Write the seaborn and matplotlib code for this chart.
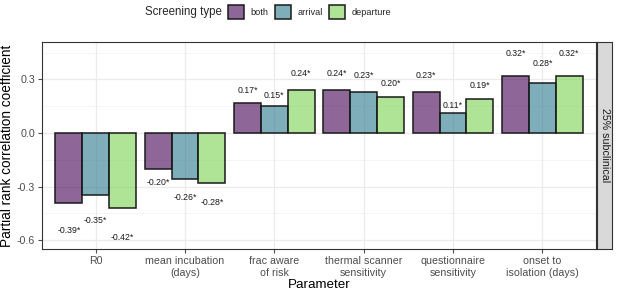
import matplotlib
matplotlib.use("Agg")
import matplotlib.pyplot as plt
import matplotlib.colors as mcolors
import seaborn as sns
import pandas as pd
import numpy as np
from matplotlib.patches import Patch

sns.set_theme(style="white")
plt.rcParams['font.family'] = ['Liberation Sans', 'DejaVu Sans']

parameters = ["R0", "mean incubation\n(days)", "frac aware\nof risk",
              "thermal scanner\nsensitivity", "questionnaire\nsensitivity",
              "onset to\nisolation (days)"]
screening_types = ["both", "arrival", "departure"]
both = [-0.39, -0.20, 0.17, 0.24, 0.23, 0.32]
arrival = [-0.35, -0.26, 0.15, 0.23, 0.11, 0.28]
departure = [-0.42, -0.28, 0.24, 0.20, 0.19, 0.32]
base_colors = ["#440154", "#2A788E", "#7AD151"]
facet_label = "25% subclinical"

rows = []
for i, p in enumerate(parameters):
    for s, vals in zip(screening_types, [both, arrival, departure]):
        rows.append({"Parameter": p, "Screening type": s, "value": vals[i]})
df = pd.DataFrame(rows)

fill_colors = [mcolors.to_rgba(c, 0.6) for c in base_colors]
edge = "#1a1a1a"

fig = plt.figure(figsize=(6.17, 2.91), dpi=100)
ax = fig.add_axes([42/617, 1-249/291, (596-42)/617, (249-42)/291])

# grid
for y in [-0.6, -0.3, 0.0, 0.3]:
    ax.axhline(y, color="#EBEBEB", lw=0.9, zorder=0)
for y in [-0.45, -0.15, 0.15, 0.45]:
    ax.axhline(y, color="#F2F2F2", lw=0.5, zorder=0)
for x in range(len(parameters)):
    ax.axvline(x, color="#EBEBEB", lw=0.9, zorder=0)

sns.barplot(data=df, x="Parameter", y="value", hue="Screening type",
            hue_order=screening_types, order=parameters,
            palette=base_colors, width=0.9,
            edgecolor=edge, linewidth=1.1, ax=ax, legend=False,
            errorbar=None, zorder=2)
for j, cont in enumerate(ax.containers):
    for bar in cont:
        bar.set_facecolor(fill_colors[j])
        bar.set_edgecolor(edge)

# labels
bw = 0.3
for j, vals in enumerate([both, arrival, departure]):
    for i, v in enumerate(vals):
        ax.text(i + (j - 1) * bw, v * 1.4, f"{v:.2f}*", ha="center", va="center",
                fontsize=6.3, color="#1a1a1a", zorder=3)

ax.set_xlim(-0.6, len(parameters) - 0.4)
ax.set_ylim(-0.65, 0.51)
ax.set_yticks([-0.6, -0.3, 0.0, 0.3])
ax.set_yticklabels(["-0.6", "-0.3", "0.0", "0.3"])
ax.tick_params(axis="both", which="major", labelsize=7.7, colors="#4D4D4D",
               length=3, width=0.8, pad=2, left=True, bottom=True)
for lab in ax.get_xticklabels() + ax.get_yticklabels():
    lab.set_color("#4D4D4D")
ax.set_xlabel("Parameter", fontsize=9.6, labelpad=1, color="black")
ax.set_ylabel("Partial rank correlation coefficient", fontsize=9.8, labelpad=2, color="black")
for sp in ax.spines.values():
    sp.set_color("#333333")
    sp.set_linewidth(0.8)
    sp.set_visible(True)

# strip
sax = fig.add_axes([597/617, 1-249/291, 15/617, (249-42)/291])
sax.set_xticks([]); sax.set_yticks([])
sax.set_facecolor("#D9D9D9")
for sp in sax.spines.values():
    sp.set_color("#333333"); sp.set_linewidth(0.8)
sax.text(0.5, 0.5, facet_label, rotation=-90, ha="center", va="center",
         fontsize=7.7, color="#1A1A1A", transform=sax.transAxes)

# legend
handles = [Patch(facecolor=fc, edgecolor=edge, linewidth=1.1) for fc in fill_colors]
fig.text(222/617, 1-12/291, "Screening type", ha="right", va="center", fontsize=8.3)
leg = fig.legend(handles, screening_types, ncol=3, loc="center left",
                 bbox_to_anchor=(228/617, 1-12/291), frameon=False,
                 fontsize=6.7, handlelength=1.7, handleheight=2.0,
                 handletextpad=0.7, columnspacing=0.7, borderpad=0, borderaxespad=0)

fig.savefig("out.png", dpi=100)
